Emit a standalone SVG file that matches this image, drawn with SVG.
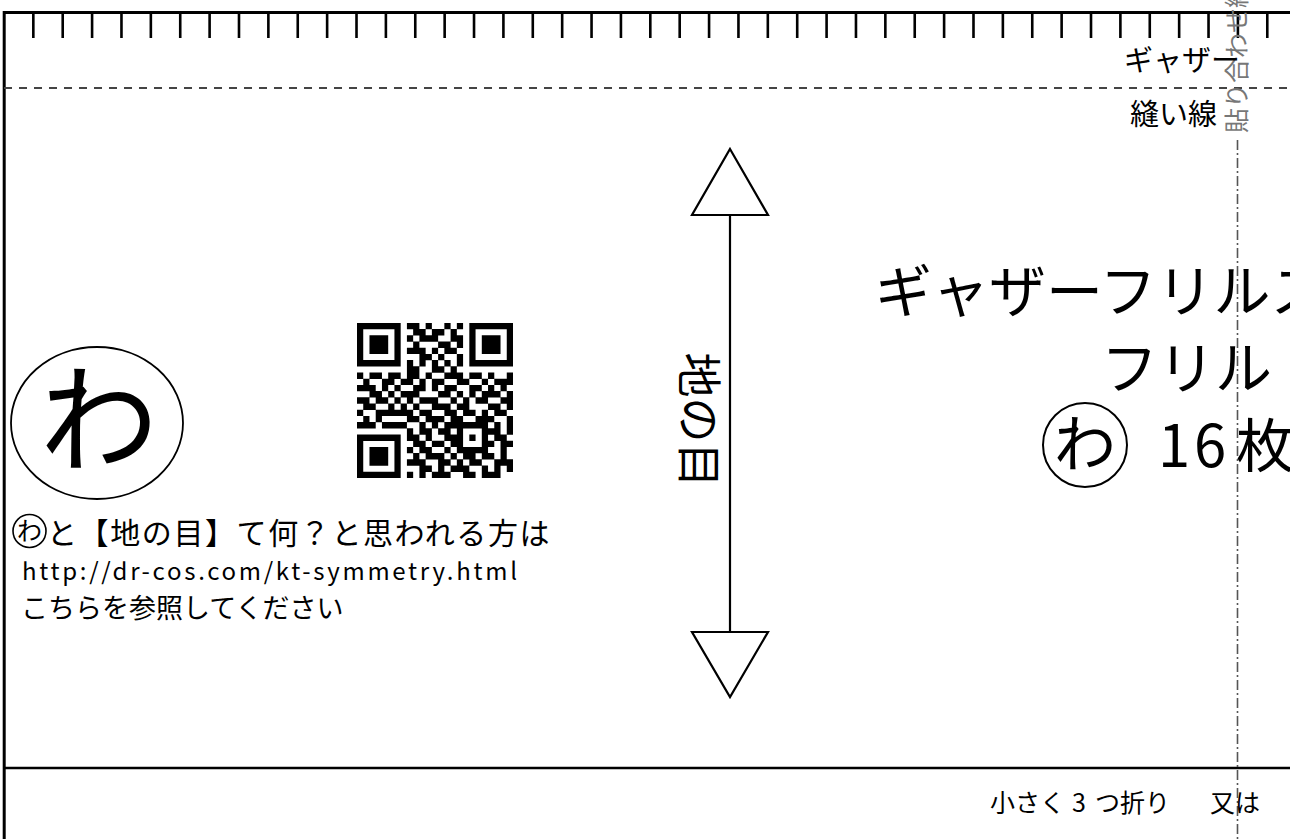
<svg xmlns="http://www.w3.org/2000/svg" width="1290" height="839" viewBox="0 0 1290 839">
<style>
.t{font-family:"Noto Sans CJK JP","Noto Sans",sans-serif;fill:#000}
.k{stroke:#000;fill:none}
</style>
<rect width="1290" height="839" fill="#fff"/>
<g id="border">
<path class="k" stroke-width="3" d="M4.2 839V12.5H1290"/>
<path class="k" stroke-width="2.6" d="M33.33 12v26m29.38 -26v26m29.38 -26v26m29.38 -26v26m29.38 -26v26m29.38 -26v26m29.38 -26v26m29.38 -26v26m29.38 -26v26m29.38 -26v26m29.38 -26v26m29.38 -26v26m29.38 -26v26m29.38 -26v26m29.38 -26v26m29.38 -26v26m29.38 -26v26m29.38 -26v26m29.38 -26v26m29.38 -26v26m29.38 -26v26m29.38 -26v26m29.38 -26v26m29.38 -26v26m29.38 -26v26m29.38 -26v26m29.38 -26v26m29.38 -26v26m29.38 -26v26m29.38 -26v26m29.38 -26v26m29.38 -26v26m29.38 -26v26m29.38 -26v26m29.38 -26v26m29.38 -26v26m29.38 -26v26m29.38 -26v26m29.38 -26v26m29.38 -26v26m29.38 -26v26m29.38 -26v26m29.38 -26v26"/>
<path stroke="#444" stroke-width="2" stroke-dasharray="8 7" d="M4 88H1290"/>
<path class="k" stroke-width="2.4" d="M4 768H1290"/>
<path stroke="#555" stroke-width="1.6" stroke-dasharray="10 3 2 3" d="M1237.5 140V839"/>
</g>
<g id="paste-label">
<text class="t" font-size="25" style="fill:#777" transform="translate(1237 133) rotate(-90)" y="9">貼り合わせ線</text>
</g>
<g id="edge-labels">
<text class="t" font-size="29" x="1124" y="71">ギャザー</text>
<text class="t" font-size="29" x="1130" y="125">縫い線</text>
</g>
<g id="piece-mark">
<ellipse cx="97" cy="423" rx="86" ry="76" class="k" stroke-width="1.8"/>
<text class="t" font-size="118" x="99" y="463" text-anchor="middle">わ</text>
</g>
<g id="qr" transform="translate(357 323) scale(6.24 6.2)">
<path stroke="#000" stroke-width="1.03" fill="none" d="M0 .5h7M8 .5h2M11 .5h1M14 .5h1M16 .5h1M18 .5h7
M0 1.5h1M6 1.5h1M9 1.5h2M12 1.5h2M15 1.5h1M18 1.5h1M24 1.5h1
M0 2.5h1M2 2.5h3M6 2.5h1M8 2.5h1M10 2.5h3M15 2.5h2M18 2.5h1M20 2.5h3M24 2.5h1
M0 3.5h1M2 3.5h3M6 3.5h1M9 3.5h1M13 3.5h2M16 3.5h1M18 3.5h1M20 3.5h3M24 3.5h1
M0 4.5h1M2 4.5h3M6 4.5h1M8 4.5h3M12 4.5h1M14 4.5h2M18 4.5h1M20 4.5h3M24 4.5h1
M0 5.5h1M6 5.5h1M10 5.5h2M13 5.5h1M16 5.5h1M18 5.5h1M24 5.5h1
M0 6.5h7M8 6.5h1M10 6.5h1M12 6.5h1M14 6.5h1M16 6.5h1M18 6.5h7
M8 7.5h2M12 7.5h2M15 7.5h1
M0 8.5h1M2 8.5h2M5 8.5h2M8 8.5h2M11 8.5h1M14 8.5h3M18 8.5h2M21 8.5h1M24 8.5h1
M1 9.5h1M4 9.5h2M7 9.5h2M10 9.5h1M12 9.5h2M16 9.5h2M20 9.5h1M22 9.5h3
M0 10.5h3M4 10.5h1M6 10.5h1M9 10.5h2M12 10.5h1M14 10.5h2M18 10.5h2M21 10.5h1M23 10.5h1
M2 11.5h2M5 11.5h1M7 11.5h3M13 11.5h2M16 11.5h1M18 11.5h1M20 11.5h3M24 11.5h1
M0 12.5h2M3 12.5h2M6 12.5h1M8 12.5h1M10 12.5h3M15 12.5h1M17 12.5h1M19 12.5h2M23 12.5h2
M1 13.5h2M5 13.5h1M7 13.5h1M9 13.5h1M12 13.5h3M16 13.5h2M21 13.5h2M24 13.5h1
M0 14.5h1M3 14.5h6M10 14.5h2M14 14.5h2M17 14.5h2M20 14.5h1M22 14.5h2
M1 15.5h1M3 15.5h1M8 15.5h2M11 15.5h3M15 15.5h2M19 15.5h3M24 15.5h1
M0 16.5h3M4 16.5h4M10 16.5h1M12 16.5h1M14 16.5h7M22 16.5h1M24 16.5h1
M8 17.5h1M10 17.5h2M13 17.5h2M16 17.5h1M20 17.5h3M24 17.5h1
M0 18.5h7M8 18.5h2M11 18.5h1M14 18.5h3M18 18.5h1M20 18.5h1M22 18.5h2
M0 19.5h1M6 19.5h1M9 19.5h2M12 19.5h2M15 19.5h2M20 19.5h2M23 19.5h2
M0 20.5h1M2 20.5h3M6 20.5h1M8 20.5h1M10 20.5h2M14 20.5h1M16 20.5h5M23 20.5h1
M0 21.5h1M2 21.5h3M6 21.5h1M9 21.5h1M11 21.5h3M15 21.5h1M17 21.5h2M20 21.5h2M23 21.5h1
M0 22.5h1M2 22.5h3M6 22.5h1M8 22.5h3M13 22.5h2M16 22.5h1M18 22.5h2M22 22.5h3
M0 23.5h1M6 23.5h1M10 23.5h2M13 23.5h1M15 23.5h3M20 23.5h1M22 23.5h1M24 23.5h1
M0 24.5h7M8 24.5h1M10 24.5h1M12 24.5h3M17 24.5h2M20 24.5h3"/>
</g>
<g id="info-text">
<circle cx="29.5" cy="531" r="16.5" class="k" stroke-width="1.6"/>
<text class="t" font-size="25" x="29.5" y="540" text-anchor="middle">わ</text>
<text class="t" font-size="30" x="47" y="544" letter-spacing="1.6">と【地の目】て何？と思われる方は</text>
<text class="t" font-size="24" x="22" y="580" textLength="495" lengthAdjust="spacing">http://dr-cos.com/kt-symmetry.html</text>
<text class="t" font-size="27" x="21" y="618">こちらを参照してください</text>
</g>
<g id="grain-arrow">
<polygon points="730,149 768,215 692,215" class="k" stroke-width="2.2" fill="#fff"/>
<polygon points="692,632 768,632 730,697" class="k" stroke-width="2.2" fill="#fff"/>
<text class="t" font-size="45" transform="translate(697 420) rotate(90)" y="15" text-anchor="middle">地の目</text>
</g>
<g id="connectors">
<path class="k" stroke-width="2.2" d="M730 215V632"/>
</g>
<g id="title">
<text class="t" font-size="57" x="875" y="312">ギャザーフリルス</text>
<text class="t" font-size="57" x="1101" y="389">フリル</text>
<circle cx="1085" cy="445" r="42" class="k" stroke-width="2"/>
<text class="t" font-size="62" x="1085" y="467" text-anchor="middle">わ</text>
<text class="t" font-size="58" y="467"><tspan x="1158">1</tspan><tspan x="1194">6</tspan><tspan x="1236">枚</tspan></text>
</g>
<g id="fold-note">
<text class="t" font-size="25" y="812"><tspan x="990">小さく</tspan><tspan x="1072">3</tspan><tspan x="1095">つ折り</tspan><tspan x="1210">又は</tspan></text>
</g>
</svg>
